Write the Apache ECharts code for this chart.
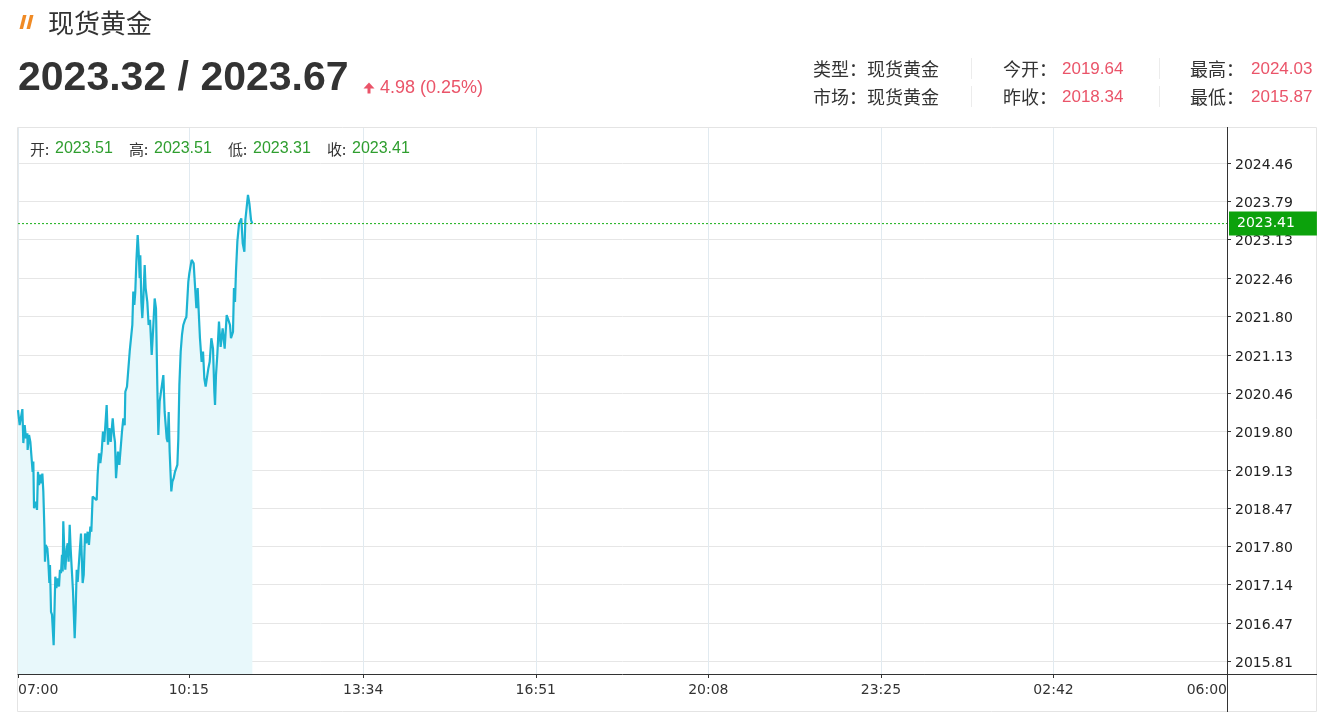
<!DOCTYPE html>
<html>
<head>
<meta charset="utf-8">
<script src="https://cdn.jsdelivr.net/npm/echarts@6/dist/echarts.min.js"></script>
<style>
  html, body { margin: 0; padding: 0; background: #fff; }
  #c { width: 1328px; height: 717px; }
</style>
</head>
<body>
<div id="c"></div>
<script>
// ---------- data ----------
// minutes after 07:00
const times = [
  0,1.9,5.0,6.1,7.6,9.1,10.7,11.0,12.6,14.1,
  15.6,16.7,17.5,18.3,20.2,21.7,22.8,24.0,25.1,26.3,
  27.8,28.9,30.1,30.8,31.6,33.5,34.6,35.8,36.5,37.7,
  38.8,40.7,41.9,42.6,43.8,45.3,46.8,47.9,49.1,50.2,
  51.0,51.7,52.9,54.0,55.6,56.7,57.8,59.0,60.1,61.3,
  62.8,64.7,65.8,67.0,68.1,68.9,70.4,71.9,73.8,75.0,
  76.5,78.0,79.5,81.0,82.6,83.7,85.2,87.1,89.8,90.9,
  92.5,94.0,95.5,97.0,98.5,101.2,102.7,104.3,105.8,108.1,
  109.6,110.7,111.9,114.1,115.7,117.6,118.7,120.2,121.8,122.5,
  124.4,125.9,127.5,129.7,130.5,131.6,132.8,133.9,135.1,136.6,
  137.7,138.9,139.6,140.8,141.9,143.1,144.6,145.7,147.6,149.1,
  150.7,152.6,154.1,156.0,157.5,159.0,160.2,161.7,163.2,165.9,
  167.4,169.7,170.8,172.0,173.1,175.0,176.2,177.7,179.2,181.9,
  183.0,184.2,185.7,187.2,188.7,190.6,192.2,194.4,195.6,198.2,
  200.5,202.0,203.6,205.1,206.6,207.7,209.6,211.2,212.7,214.2,
  216.1,217.3,218.8,220.7,222.6,224.1,224.9,226.0,227.5,229.4,
  231.3,233.6,235.9,238.2,240.1,242.0,243.1,245.4,246.5,247.7,
  248.8,250.4,252.3,254.9,256.5,258.4,259.5,261.0,262.5,264.1,
  266.0,267.5
];
const prices = [
  2020.17,2019.91,2020.19,2019.60,2019.91,2019.68,2019.77,2019.48,2019.74,2019.62,
  2019.62,2019.10,2019.28,2018.47,2018.58,2018.44,2019.10,2018.87,2019.05,2018.90,
  2019.07,2018.76,2018.12,2017.54,2017.83,2017.77,2017.54,2017.17,2017.48,2016.67,
  2016.62,2016.09,2016.85,2017.28,2017.08,2017.25,2017.11,2017.40,2017.34,2017.66,
  2017.37,2018.24,2017.71,2017.40,2017.77,2017.86,2017.54,2018.18,2017.77,2017.43,
  2017.02,2016.21,2016.67,2017.40,2017.19,2017.37,2017.71,2018.03,2017.17,2017.31,
  2018.03,2017.86,2018.06,2017.83,2018.15,2018.06,2018.67,2018.70,2018.61,2019.05,
  2019.42,2019.25,2019.45,2019.80,2019.62,2020.26,2019.57,2019.86,2019.62,2020.03,
  2019.74,2019.62,2018.99,2019.45,2019.22,2019.22,2019.80,2020.03,2019.91,2020.49,
  2020.58,2020.61,2021.19,2021.22,2021.65,2022.23,2022.00,2022.23,2022.75,2023.21,
  2022.92,2022.46,2022.86,2022.05,2021.77,2022.11,2022.69,2022.29,2022.05,2021.65,
  2021.74,2021.13,2021.53,2022.11,2021.94,2020.61,2019.74,2020.32,2020.49,2020.78,
  2020.14,2019.68,2019.62,2020.14,2019.45,2018.76,2018.93,2018.99,2019.10,2019.22,
  2019.68,2020.61,2021.19,2021.48,2021.65,2021.74,2021.79,2022.40,2022.55,2022.78,
  2022.72,2022.34,2021.94,2022.29,2021.77,2021.42,2021.01,2021.19,2020.72,2020.58,
  2020.61,2020.90,2021.01,2021.42,2021.24,2020.49,2020.26,2020.78,2021.13,2021.71,
  2021.27,2021.59,2021.24,2021.82,2021.74,2021.65,2021.42,2021.53,2022.29,2022.05,
  2022.58,2023.10,2023.41,2023.50,2023.07,2022.92,2023.47,2023.50,2023.91,2023.76,
  2023.47,2023.41
];
// x-axis tick labels and their minute offsets from 07:00
const xLabels = ['07:00','10:15','13:34','16:51','20:08','23:25','02:42','06:00'];
const xTickMinutes = [0,195,394,591,788,985,1182,1380];
// y-axis tick labels
const yLabels = ['2015.81','2016.47','2017.14','2017.80','2018.47','2019.13','2019.80',
                 '2020.46','2021.13','2021.80','2022.46','2023.13','2023.79','2024.46'];
const yMin = 2015.59, yMax = 2025.07;

// header info
const title = '现货黄金';
const bidAsk = '2023.32 / 2023.67';
const change = '4.98 (0.25%)';
const infoRows = [
  { label: '类型：现货黄金', k1: '今开：', v1: '2019.64', k2: '最高：', v2: '2024.03' },
  { label: '市场：现货黄金', k1: '昨收：', v1: '2018.34', k2: '最低：', v2: '2015.87' }
];
const ohlcKeys = ['开:', '高:', '低:', '收:'];
const ohlcVals = ['2023.51', '2023.51', '2023.31', '2023.41'];
const lastPrice = 2023.41;

// ---------- chart ----------
const chart = echarts.init(document.getElementById('c'), null, { renderer: 'canvas', width: 1328, height: 717 });

const yVals = yLabels.map(Number);
const CJK = '"Noto Sans CJK SC", sans-serif';
const LAT = '"Liberation Sans", Arial, sans-serif';
const RED = '#ea5469';
const GREEN_TXT = '#2f9e2f';
const PRICE_GREEN = '#18b018';

const graphic = [];
// panel border
graphic.push({ type: 'rect', z: -1, shape: { x: 17.5, y: 127.5, width: 1299, height: 584 },
  style: { fill: 'none', stroke: '#e4e4e4', lineWidth: 1 } });
// axis extensions beyond the plot
graphic.push({ type: 'line', z: 5, shape: { x1: 1227.5, y1: 127, x2: 1227.5, y2: 712 }, style: { stroke: '#333', lineWidth: 1 } });
graphic.push({ type: 'line', z: 5, shape: { x1: 1227, y1: 674.5, x2: 1317, y2: 674.5 }, style: { stroke: '#333', lineWidth: 1 } });
// orange icon
graphic.push({ type: 'polygon', shape: { points: [[23,15],[26.5,15],[23,29],[19.5,29]] }, style: { fill: '#f08a24' } });
graphic.push({ type: 'polygon', shape: { points: [[30,15],[33.5,15],[30,29],[26.5,29]] }, style: { fill: '#f08a24' } });
// title
graphic.push({ type: 'text', x: 48, y: 23, style: { text: title, font: '26px ' + CJK, fill: '#333', verticalAlign: 'middle' } });
// bid / ask
graphic.push({ type: 'text', x: 18, y: 79, style: { text: bidAsk, font: 'bold 41px ' + LAT, fill: '#333', verticalAlign: 'middle' } });
// up arrow
graphic.push({ type: 'polygon', shape: { points: [[369,82.5],[374.5,88.5],[363.5,88.5]] }, style: { fill: RED } });
graphic.push({ type: 'rect', shape: { x: 367.5, y: 88, width: 3, height: 5.5 }, style: { fill: RED } });
graphic.push({ type: 'text', x: 380, y: 88, style: { text: change, font: '18px ' + LAT, fill: RED, verticalAlign: 'middle' } });
// info panel
infoRows.forEach((r, i) => {
  const y = 69 + i * 28;
  graphic.push({ type: 'text', x: 813, y: y, style: { text: r.label, font: '18px ' + CJK, fill: '#333', verticalAlign: 'middle' } });
  graphic.push({ type: 'text', x: 1003, y: y, style: { text: r.k1, font: '18px ' + CJK, fill: '#333', verticalAlign: 'middle' } });
  graphic.push({ type: 'text', x: 1062, y: y, style: { text: r.v1, font: '17px ' + LAT, fill: RED, verticalAlign: 'middle' } });
  graphic.push({ type: 'text', x: 1190, y: y, style: { text: r.k2, font: '18px ' + CJK, fill: '#333', verticalAlign: 'middle' } });
  graphic.push({ type: 'text', x: 1251, y: y, style: { text: r.v2, font: '17px ' + LAT, fill: RED, verticalAlign: 'middle' } });
  graphic.push({ type: 'line', shape: { x1: 971.5, y1: y - 11, x2: 971.5, y2: y + 10 }, style: { stroke: '#ececec', lineWidth: 1 } });
  graphic.push({ type: 'line', shape: { x1: 1159.5, y1: y - 11, x2: 1159.5, y2: y + 10 }, style: { stroke: '#ececec', lineWidth: 1 } });
});
// OHLC row
ohlcKeys.forEach((k, i) => {
  const x0 = 30 + i * 99;
  graphic.push({ type: 'text', x: x0, y: 149, z: 10, style: { text: k, font: '15px ' + CJK, fill: '#333', verticalAlign: 'middle' } });
  graphic.push({ type: 'text', x: x0 + 25, y: 149, z: 10, style: { text: ohlcVals[i], font: '16px ' + LAT, fill: GREEN_TXT, verticalAlign: 'middle' } });
});

const option = {
  animation: false,
  backgroundColor: '#fff',
  grid: { left: 18, right: 101, top: 128, bottom: 43 },
  xAxis: {
    type: 'value', min: 0, max: 1380,
    axisLine: { show: true, onZero: false, lineStyle: { color: '#333', width: 1 } },
    axisTick: { show: true, length: 4, inside: false, lineStyle: { color: '#333' }, customValues: xTickMinutes },
    axisLabel: {
      customValues: xTickMinutes,
      formatter: (v) => { const i = xTickMinutes.indexOf(v); return i >= 0 ? '{t|' + xLabels[i] + '}' : ''; },
      rich: { t: { color: '#333', fontFamily: 'DejaVu Sans', fontSize: 14, padding: [2, 0, 0, 0] } },
      color: '#333', fontFamily: 'DejaVu Sans', fontSize: 14, margin: 7,
      alignMinLabel: 'left', alignMaxLabel: 'right'
    },
    splitLine: { show: true, lineStyle: { color: '#e1eaf0', width: 1 } }
  },
  yAxis: {
    type: 'value', position: 'right', min: yMin, max: yMax, scale: true,
    axisLine: { show: true, onZero: false, lineStyle: { color: '#333', width: 1 } },
    axisTick: { show: true, length: 4, inside: false, lineStyle: { color: '#333' }, customValues: yVals },
    axisLabel: {
      customValues: yVals,
      formatter: (v) => '{t|' + Number(v).toFixed(2) + '}',
      rich: { t: { color: '#222', fontFamily: 'DejaVu Sans', fontSize: 14, padding: [4, 0, 0, 0] } },
      color: '#222', fontFamily: 'DejaVu Sans', fontSize: 14, margin: 8
    },
    splitLine: { show: true, lineStyle: { color: '#e6e6e6', width: 1 } }
  },
  graphic: graphic,
  series: [{
    name: 'price',
    type: 'line',
    data: times.map((t, i) => [t, prices[i]]),
    showSymbol: false,
    symbol: 'none',
    lineStyle: { color: '#1cb3d2', width: 2.2 },
    areaStyle: { color: '#e8f8fb', opacity: 1, origin: 'start' },
    z: 2
  }, {
    name: 'last',
    type: 'line',
    silent: true,
    data: [[0, lastPrice], [1380, lastPrice]],
    showSymbol: false,
    symbol: 'none',
    color: PRICE_GREEN,
    lineStyle: { type: [2, 2], color: PRICE_GREEN, width: 1 },
    z: 3,
    endLabel: {
      show: true, distance: 2,
      formatter: () => lastPrice.toFixed(2),
      color: '#fff', backgroundColor: '#0ca20c',
      fontFamily: 'DejaVu Sans', fontSize: 14,
      padding: [5, 22, 5, 8]
    }
  }]
};
chart.setOption(option);
</script>
</body>
</html>
